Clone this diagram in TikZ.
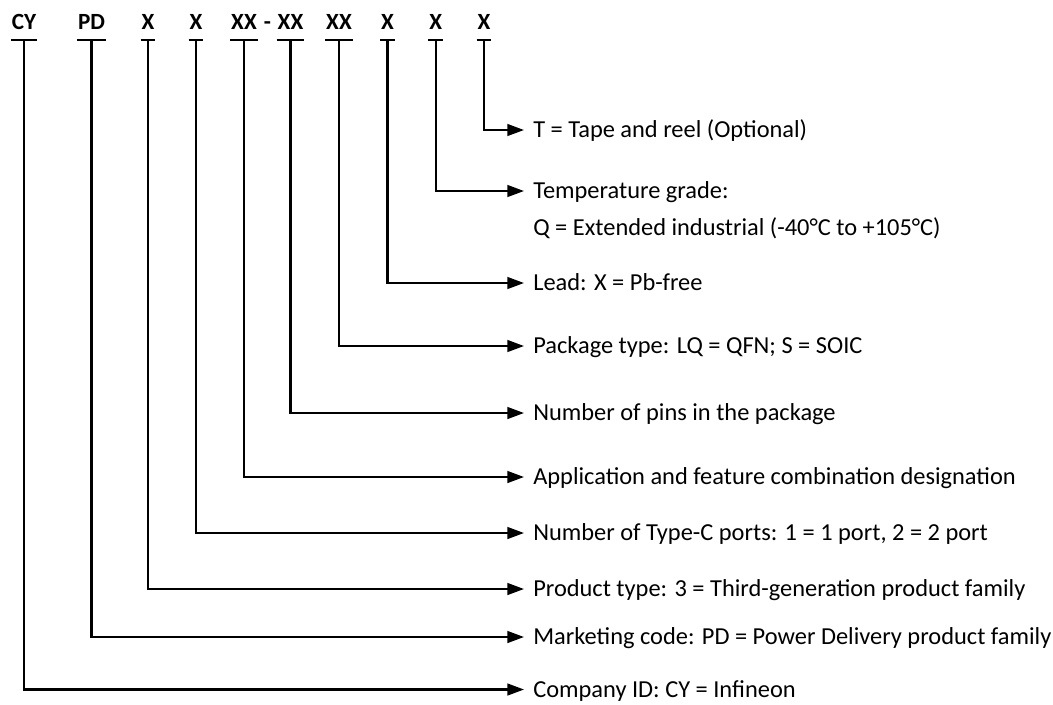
\documentclass[tikz,border=0pt]{standalone}
\usepackage{fontspec}
\setmainfont{Carlito}
\usetikzlibrary{arrows.meta}
\tikzstyle{code}=[anchor=base,font=\fontsize{17.4}{20}\selectfont\bfseries,inner xsep=0.6pt,inner ysep=7.5pt,text depth=0pt]
\tikzstyle{desc}=[anchor=west,font=\fontsize{18.3}{22}\selectfont,inner xsep=6.75pt,inner ysep=0pt,text height=11.7pt,text depth=0pt]
\tikzstyle{simple}=[-,line width=1.6pt]
\tikzstyle{inarrow}=[-{Triangle[length=12.5pt,width=8.8pt]},line width=1.6pt]
\pgfdeclarelayer{edgelayer}
\pgfdeclarelayer{nodelayer}
\pgfsetlayers{edgelayer,nodelayer,main}

\begin{document}
\begin{tikzpicture}[x=0.75pt,y=-0.75pt]
	\useasboundingbox (0,0) rectangle (1053,704);
	\begin{pgfonlayer}{nodelayer}
		\node [style=code] (0) at (24, 29.3) {CY};
		\node [style=code] (1) at (91.5, 29.3) {PD};
		\node [style=code] (2) at (148, 29.3) {X};
		\node [style=code] (3) at (196, 29.3) {X};
		\node [style=code] (4) at (244, 29.3) {XX};
		\node [style=code] (5) at (290.5, 29.3) {XX};
		\node [style=code] (6) at (339, 29.3) {XX};
		\node [style=code] (7) at (387.5, 29.3) {X};
		\node [style=code] (8) at (435.7, 29.3) {X};
		\node [style=code] (9) at (484, 29.3) {X};
		\node [style=code] (21) at (267.5, 29.3) {-};
		\node [style=desc] (10) at (524, 689.5) {Company ID: CY = Infineon};
		\node [style=desc] (11) at (524, 637) {Marketing code: PD = Power Delivery product family};
		\node [style=desc] (12) at (524, 589) {Product type: 3 = Third-generation product family};
		\node [style=desc] (13) at (524, 533) {Number of Type-C ports: 1 = 1 port, 2 = 2 port};
		\node [style=desc] (14) at (524, 477) {Application and feature combination designation};
		\node [style=desc] (15) at (524, 413) {Number of pins in the package};
		\node [style=desc] (16) at (524, 346) {Package type: LQ = QFN; S = SOIC};
		\node [style=desc] (17) at (524, 283) {Lead: X = Pb-free};
		\node [style=desc] (18) at (524, 191) {Temperature grade:};
		\node [style=desc] (20) at (524, 228) {Q = Extended industrial (-40°C to +105°C)};
		\node [style=desc] (19) at (524, 130) {T = Tape and reel (Optional)};
	\end{pgfonlayer}
	\begin{pgfonlayer}{edgelayer}
		\draw [style=simple] (0.south west) to (0.south east);
		\draw [style=simple] (1.south west) to (1.south east);
		\draw [style=simple] (2.south west) to (2.south east);
		\draw [style=simple] (3.south west) to (3.south east);
		\draw [style=simple] (4.south west) to (4.south east);
		\draw [style=simple] (5.south west) to (5.south east);
		\draw [style=simple] (6.south west) to (6.south east);
		\draw [style=simple] (7.south west) to (7.south east);
		\draw [style=simple] (8.south west) to (8.south east);
		\draw [style=simple] (9.south west) to (9.south east);
		\draw [style=inarrow] (0.south) |- (10.west);
		\draw [style=inarrow] (1.south) |- (11.west);
		\draw [style=inarrow] (2.south) |- (12.west);
		\draw [style=inarrow] (3.south) |- (13.west);
		\draw [style=inarrow] (4.south) |- (14.west);
		\draw [style=inarrow] (5.south) |- (15.west);
		\draw [style=inarrow] (6.south) |- (16.west);
		\draw [style=inarrow] (7.south) |- (17.west);
		\draw [style=inarrow] (8.south) |- (18.west);
		\draw [style=inarrow] (9.south) |- (19.west);
	\end{pgfonlayer}
\end{tikzpicture}
\end{document}
